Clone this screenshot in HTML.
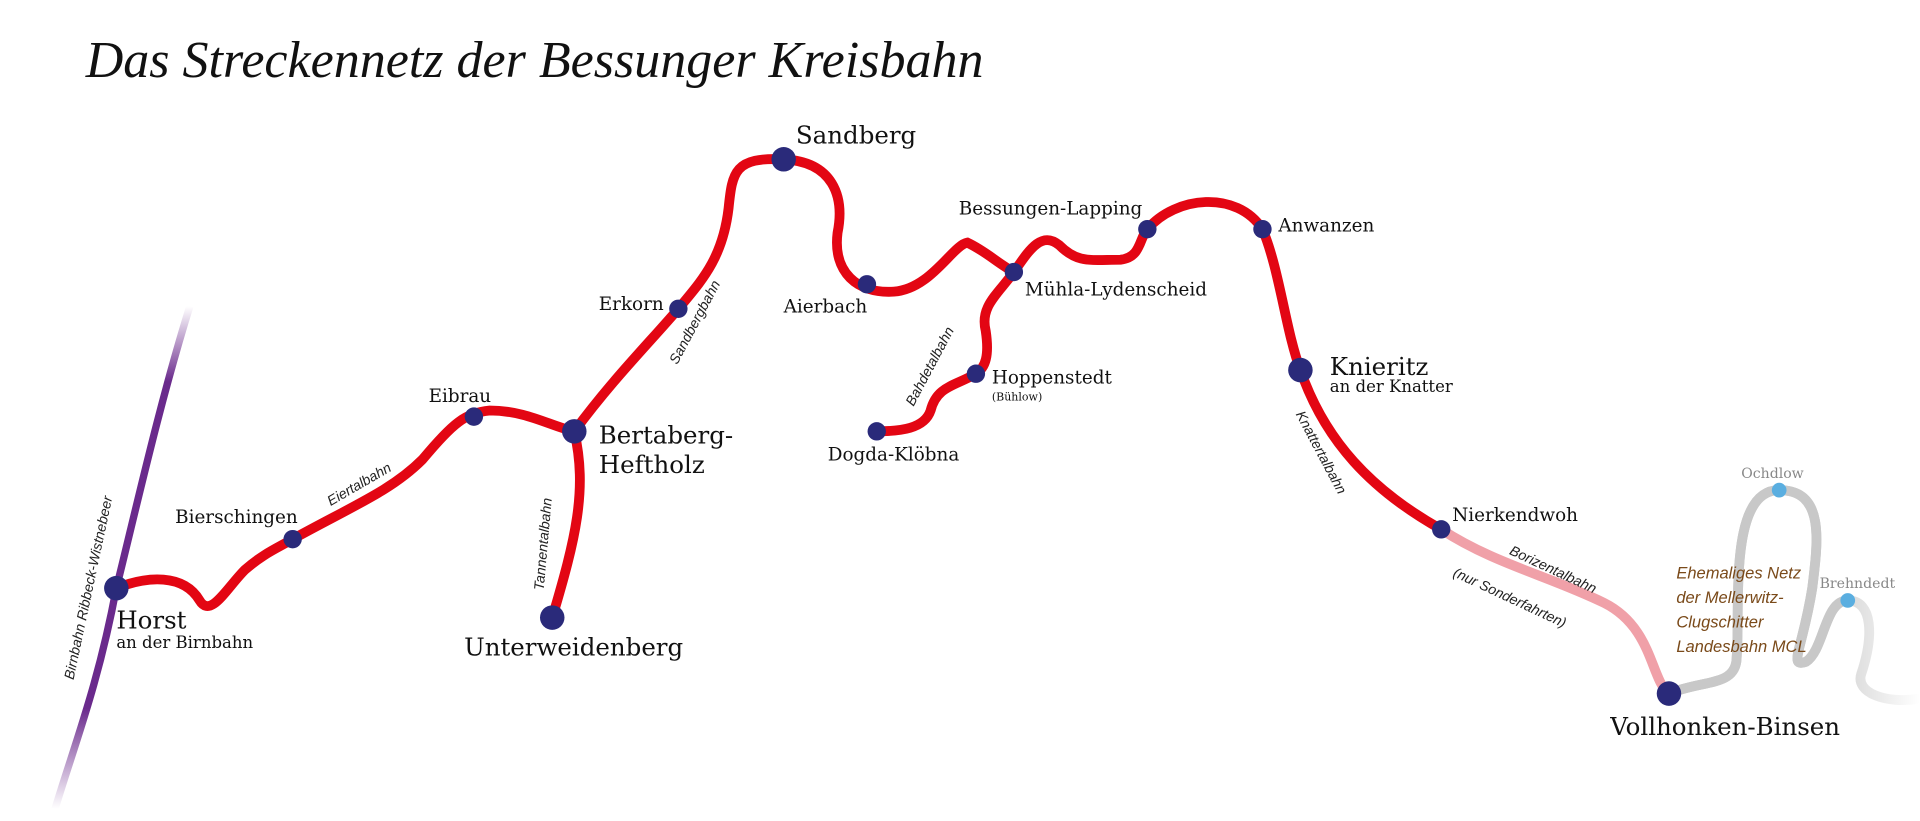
<!DOCTYPE html>
<html><head><meta charset="utf-8"><style>
html,body{margin:0;padding:0;background:#fff;width:1920px;height:821px;overflow:hidden}
svg{display:block}
text{font-family:"DejaVu Serif","Liberation Serif",serif;fill:#111}
.it{font-family:"Liberation Sans",sans-serif;font-style:italic;font-size:11.5px;fill:#222}
.mcl{font-family:"Liberation Sans",sans-serif;font-style:italic;font-size:13.5px;fill:#7a4a1a}
</style></head><body>
<svg width="1920" height="821" viewBox="0 0 1568 670" preserveAspectRatio="none" xmlns="http://www.w3.org/2000/svg">
<defs>
<linearGradient id="pg" x1="0" y1="250" x2="0" y2="660" gradientUnits="userSpaceOnUse">
<stop offset="0" stop-color="#6a2a8c" stop-opacity="0"/><stop offset="0.15" stop-color="#6a2a8c"/><stop offset="0.8" stop-color="#6a2a8c"/><stop offset="1" stop-color="#6a2a8c" stop-opacity="0"/></linearGradient>
<linearGradient id="gg" x1="1480" y1="0" x2="1568" y2="0" gradientUnits="userSpaceOnUse">
<stop offset="0" stop-color="#c8c8c8"/><stop offset="1" stop-color="#c8c8c8" stop-opacity="0"/></linearGradient>
</defs>
<text x="70" y="63" style="font-family:'Liberation Serif',serif;font-style:italic;font-size:42.5px">Das Streckennetz der Bessunger Kreisbahn</text>
<path d="M155,250 C130,330 110,420 95,480 C80,560 60,610 45,660" stroke="url(#pg)" stroke-width="6" fill="none"/>
<path d="M1363,566 C1390,555 1415,560 1418,540 C1422,500 1410,400 1453,400 C1490,400 1485,440 1480,480 C1472,530 1460,545 1475,540 C1490,530 1490,490 1509,490 C1530,490 1530,520 1520,550 C1515,565 1540,575 1568,570" stroke="url(#gg)" stroke-width="8" fill="none"/>
<path d="M1363,566 C1390,555 1415,560 1418,540 C1422,500 1410,400 1453,400 C1490,400 1485,440 1480,480 C1472,530 1460,545 1475,540 C1490,530 1490,490 1509,490" stroke="#c8c8c8" stroke-width="8" fill="none"/>
<path d="M1177,432 C1220,460 1265,470 1310,492 C1350,512 1348,555 1363,566" stroke="#f0a0a8" stroke-width="8" fill="none"/>
<g stroke="#e30613" stroke-width="8" fill="none" stroke-linecap="round">
<path d="M95,480 C120,470 150,468 163,490 C172,505 185,480 200,465 C215,452 225,448 239,440 C290,412 320,400 345,375 C370,345 380,337 400,335 C430,335 450,348 469,352 C500,310 530,280 554,252 C572,230 590,212 595,170 C598,140 600,128 640,130 C680,132 690,160 684,190 C680,222 700,240 730,238 C760,236 778,200 790,198 C805,205 815,215 828,222 C840,205 850,188 865,200 C880,215 890,212 915,212 C932,210 930,195 937,187 C960,160 1010,155 1031,187 C1045,220 1050,270 1062,302 C1082,360 1120,400 1177,432"/>
<path d="M469,352 C480,400 470,440 451,504"/>
<path d="M828,222 C815,240 800,250 805,270 C808,290 805,300 797,305 C780,315 765,315 760,335 C755,350 735,352 716,352"/>
</g>
<g fill="#2a2a7a">
<circle cx="95" cy="480" r="10"/><circle cx="239" cy="440" r="7.5"/><circle cx="387" cy="340" r="7.5"/>
<circle cx="469" cy="352" r="10"/><circle cx="451" cy="504" r="10"/><circle cx="554" cy="252" r="7.5"/>
<circle cx="640" cy="130" r="10"/><circle cx="708" cy="232" r="7.5"/><circle cx="828" cy="222" r="7.5"/>
<circle cx="937" cy="187" r="7.5"/><circle cx="1031" cy="187" r="7.5"/><circle cx="1062" cy="302" r="10"/>
<circle cx="797" cy="305" r="7.5"/><circle cx="716" cy="352" r="7.5"/><circle cx="1177" cy="432" r="7.5"/>
<circle cx="1363" cy="566" r="10"/>
</g>
<circle cx="1453" cy="400" r="6" fill="#5aaee0"/><circle cx="1509" cy="490" r="6" fill="#5aaee0"/>
<g font-size="15">
<text x="143" y="427">Bierschingen</text>
<text x="350" y="328">Eibrau</text>
<text x="489" y="253">Erkorn</text>
<text x="640" y="255">Aierbach</text>
<text x="783" y="175">Bessungen-Lapping</text>
<text x="1044" y="189">Anwanzen</text>
<text x="837" y="241">Mühla-Lydenscheid</text>
<text x="810" y="313">Hoppenstedt</text>
<text x="676" y="376">Dogda-Klöbna</text>
<text x="1186" y="425">Nierkendwoh</text>
<text x="1086" y="320" font-size="13.5">an der Knatter</text>
<text x="95" y="529" font-size="13.5">an der Birnbahn</text>
<text x="810" y="327" font-size="9">(Bühlow)</text>
</g>
<g font-size="20">
<text x="650" y="117">Sandberg</text>
<text x="95" y="513">Horst</text>
<text x="489" y="362">Bertaberg-</text>
<text x="489" y="386">Heftholz</text>
<text x="379" y="535">Unterweidenberg</text>
<text x="1086" y="306">Knieritz</text>
<text x="1315" y="600">Vollhonken-Binsen</text>
</g>
<g font-size="11.5"><text x="1422" y="390" style="fill:#888">Ochdlow</text><text x="1486" y="480" style="fill:#888">Brehndedt</text></g>
<text class="mcl" x="1369" y="472">Ehemaliges Netz</text>
<text class="mcl" x="1369" y="492">der Mellerwitz-</text>
<text class="mcl" x="1369" y="512">Clugschitter</text>
<text class="mcl" x="1369" y="532">Landesbahn MCL</text>
<text class="it" transform="translate(60,555) rotate(-78)">Birnbahn Ribbeck-Wistnebeer</text>
<text class="it" transform="translate(270,413) rotate(-30)">Eiertalbahn</text>
<text class="it" transform="translate(444,482) rotate(-85)">Tannentalbahn</text>
<text class="it" transform="translate(553,298) rotate(-62)">Sandbergbahn</text>
<text class="it" transform="translate(746,332) rotate(-62)">Bahdetalbahn</text>
<text class="it" transform="translate(1058,338) rotate(62)">Knattertalbahn</text>
<text class="it" transform="translate(1232,452) rotate(25)">Borizentalbahn</text>
<text class="it" transform="translate(1186,470) rotate(25)">(nur Sonderfahrten)</text>
</svg>
</body></html>
